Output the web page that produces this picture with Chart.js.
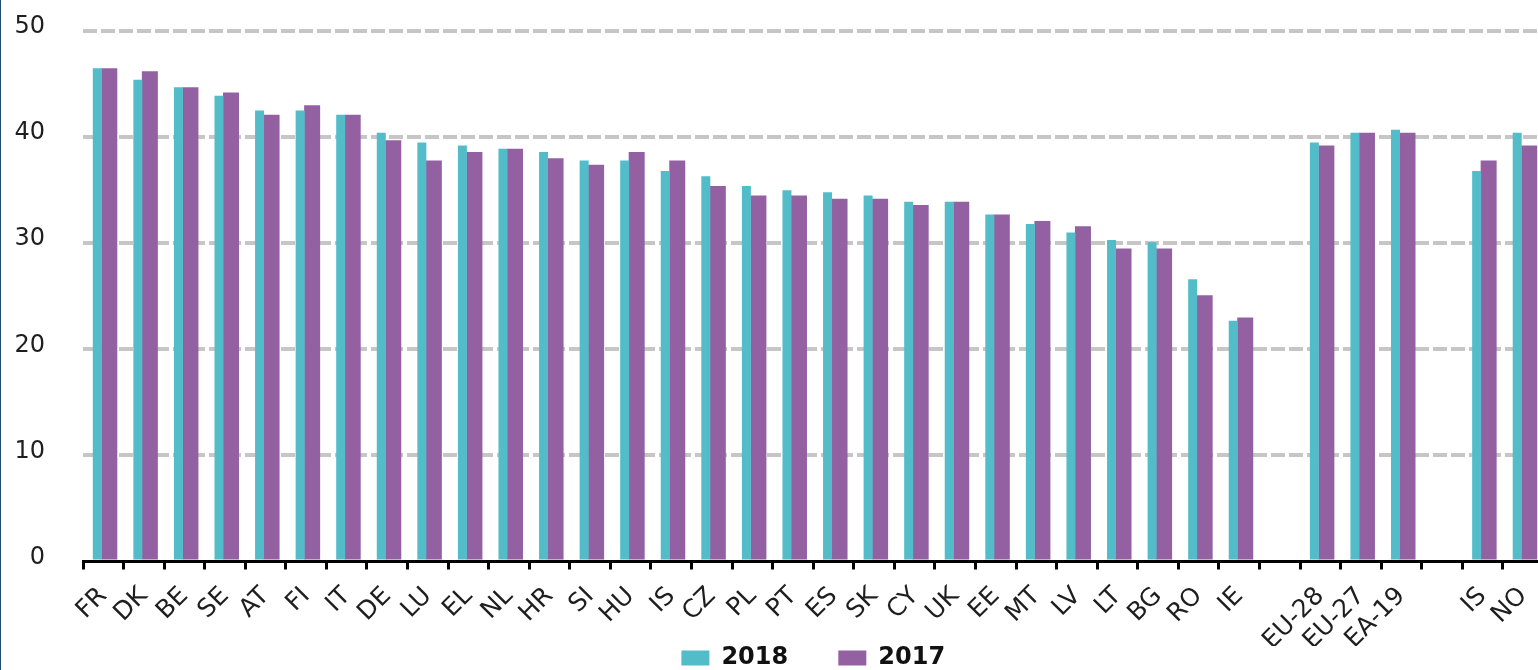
<!DOCTYPE html>
<html>
<head>
<meta charset="utf-8">
<script src="https://cdn.jsdelivr.net/npm/chart.js@4"></script>
<style>
  html, body { margin:0; padding:0; background:#fff; overflow:hidden; }
  #wrap { position:absolute; left:0; top:0; width:1546px; height:680px; }
  #frame { position:absolute; left:0; top:0; width:1px; height:670px; background:#20506e; }
</style>
</head>
<body>
<div id="wrap"><canvas id="chart"></canvas></div>
<div id="frame"></div>
<script>
// Categories ('' = empty gap slots)
const labels = ['FR','DK','BE','SE','AT','FI','IT','DE','LU','EL','NL','HR','SI','HU','IS','CZ','PL','PT','ES','SK',
  'CY','UK','EE','MT','LV','LT','BG','RO','IE','','EU-28','EU-27','EA-19','','IS','NO'];

// Series values
const values2018 = [46.5,45.4,44.7,43.9,42.5,42.5,42.1,40.4,39.5,39.2,38.9,38.6,37.8,37.8,36.8,36.3,35.4,35.0,34.8,34.5,
  33.9,33.9,32.7,31.8,31.0,30.3,30.1,26.6,22.7,null,39.5,40.4,40.7,null,36.8,40.4];
const values2017 = [46.5,46.2,44.7,44.2,42.1,43.0,42.1,39.7,37.8,38.6,38.9,38.0,37.4,38.6,37.8,35.4,34.5,34.5,34.2,34.2,
  33.6,33.9,32.7,32.1,31.6,29.5,29.5,25.1,23.0,null,39.2,40.4,40.4,null,37.8,39.2];

// Y ticks
const yTicks = [0,10,20,30,40,50];

const FONT = 'DejaVu Sans';

new Chart(document.getElementById('chart'), {
  type:'bar',
  data:{
    labels:labels,
    datasets:[
      { label:'2018', data:values2018, backgroundColor:'#52bdc9', borderWidth:0, barPercentage:0.75, categoryPercentage:0.5916 },
      { label:'2017', data:values2017, backgroundColor:'#9360a2', borderWidth:0, barPercentage:1.333, categoryPercentage:0.5916 }
    ]
  },
  options:{
    responsive:true,
    maintainAspectRatio:false,
    animation:false,
    layout:{ padding:{ left:15, right:2.5, top:31, bottom:0 } },
    plugins:{
      tooltip:{ enabled:false },
      legend:{
        position:'bottom',
        fullSize:false,
        labels:{
          boxWidth:28, boxHeight:15, padding:0, color:'#111',
          font:{ family:FONT, size:24, weight:'bold' },
          // gap between the two entries
          generateLabels:(chart) => {
            const items = Chart.defaults.plugins.legend.labels.generateLabels(chart);
            items[0].text += '      ';
            return items;
          }
        }
      }
    },
    scales:{
      x:{
        offset:true,
        grid:{ display:true, offset:true, drawOnChartArea:false, drawTicks:true, tickLength:8, tickWidth:3, tickColor:'#000' },
        border:{ display:true, color:'#000', width:3 },
        ticks:{ autoSkip:false, minRotation:45, maxRotation:45, padding:12, color:'#1e1e1e', font:{ family:FONT, size:25 } },
        afterFit:(scale) => { scale.height = 84.5; scale.paddingLeft = 0; scale.paddingRight = 0; }
      },
      y:{
        min:0, max:50,
        afterBuildTicks:(scale) => { scale.ticks = yTicks.map(v => ({ value:v })); },
        afterFit:(scale) => { scale.width = 68; scale.paddingTop = 0; scale.paddingBottom = 0; },
        grid:{ drawTicks:false, lineWidth:4, color:(ctx) => ctx.tick && ctx.tick.value === 0 ? 'rgba(0,0,0,0)' : '#c6c6c6' },
        border:{ display:false, dash:[14,4] },
        ticks:{ padding:38, labelOffset:-4, color:'#1e1e1e', font:{ family:FONT, size:24 } }
      }
    }
  }
});
</script>
</body>
</html>
